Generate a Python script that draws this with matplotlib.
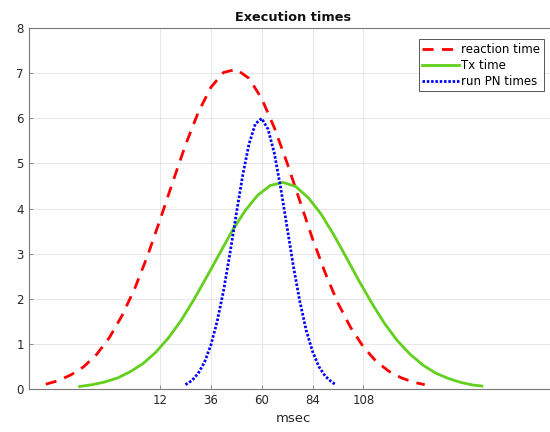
#!/usr/bin/env python
import matplotlib
matplotlib.use('Agg')

import numpy as np
import pylab as py

#--curves (msec, value)
x_react = [-42,-36,-30,-24,-18,-12,-6,0,6,12,18,24,30,36,42,48,54,60,66,72,78,84,
           90,96,102,108,114,120,126,132,137]
y_react = [0.10,0.18,0.31,0.49,0.76,1.13,1.62,2.22,2.94,3.75,4.59,5.41,6.13,6.69,7.02,7.09,
           6.89,6.44,5.79,5.01,4.17,3.33,2.57,1.90,1.36,0.93,0.61,0.39,0.24,0.14,0.09]

x_tx = [-26,-20,-14,-8,-2,4,10,16,22,28,34,40,46,52,58,64,70,76,82,88,94,100,106,112,
        118,124,130,136,142,148,154,160,164]
y_tx = [0.05,0.09,0.15,0.24,0.38,0.56,0.81,1.13,1.52,1.98,2.48,2.99,3.50,3.94,4.29,4.51,
        4.58,4.49,4.24,3.88,3.42,2.91,2.39,1.90,1.45,1.07,0.77,0.53,0.35,0.23,0.14,0.08,0.06]

x_pn = [24,27,30,33,36,39,42,45,48,51,54,57,60,63,66,69,72,75,78,81,84,87,90,93,95]
y_pn = [0.09,0.18,0.34,0.59,0.97,1.50,2.18,3.00,3.88,4.73,5.43,5.88,6.00,5.76,5.22,4.45,
        3.58,2.71,1.94,1.30,0.83,0.49,0.28,0.15,0.09]

xticks = [12,36,60,84,108]
labels = ['reaction time','Tx time','run PN times']


def plot():
    fig = py.figure(figsize=(5.5,4.32),dpi=100)
    ax  = fig.add_axes([0.0524,0.1002,0.9623,0.8343])

    ax.plot(x_react,y_react,color='#ff0000',lw=2,dashes=(4.0,3.0),label=labels[0])
    ax.plot(x_tx,y_tx,color='#62d01c',lw=2,label=labels[1])
    ax.plot(x_pn,y_pn,color='#0000ff',lw=2,linestyle=(0,(0.9,0.65)),label=labels[2])

    ax.set_xlim(-50,200)
    ax.set_ylim(0,8)
    ax.set_xticks(xticks)
    ax.set_yticks(range(0,9))
    ax.grid(True,color='#e3e3e3',lw=0.6)
    ax.set_axisbelow(True)
    ax.tick_params(axis='both',which='both',direction='in',length=3,width=0.6,
                   colors='#777777',labelcolor='#262626',labelsize=8.5)
    for s in ax.spines.values():
        s.set_color('#777777')
        s.set_linewidth(0.8)
    ax.spines['right'].set_visible(False)

    ax.set_xlabel('msec',size=9.5,color='#262626',labelpad=4)
    ax.set_title('Execution times',size=9.3,weight='bold',color='#111111',pad=5)

    leg = ax.legend(loc='upper right',bbox_to_anchor=(0.989,0.909),bbox_transform=fig.transFigure,
                    fontsize=8.5,handlelength=3.1,handletextpad=0.2,labelspacing=0.25,
                    borderpad=0.3,borderaxespad=0,fancybox=False,framealpha=1)
    leg.get_frame().set_edgecolor('#555555')
    leg.get_frame().set_linewidth(0.7)

    filename = 'out.png'
    py.savefig(filename,dpi=100)
    print('Saving figure to %s'%filename)
    py.clf()

if __name__ == "__main__":

    plot()
